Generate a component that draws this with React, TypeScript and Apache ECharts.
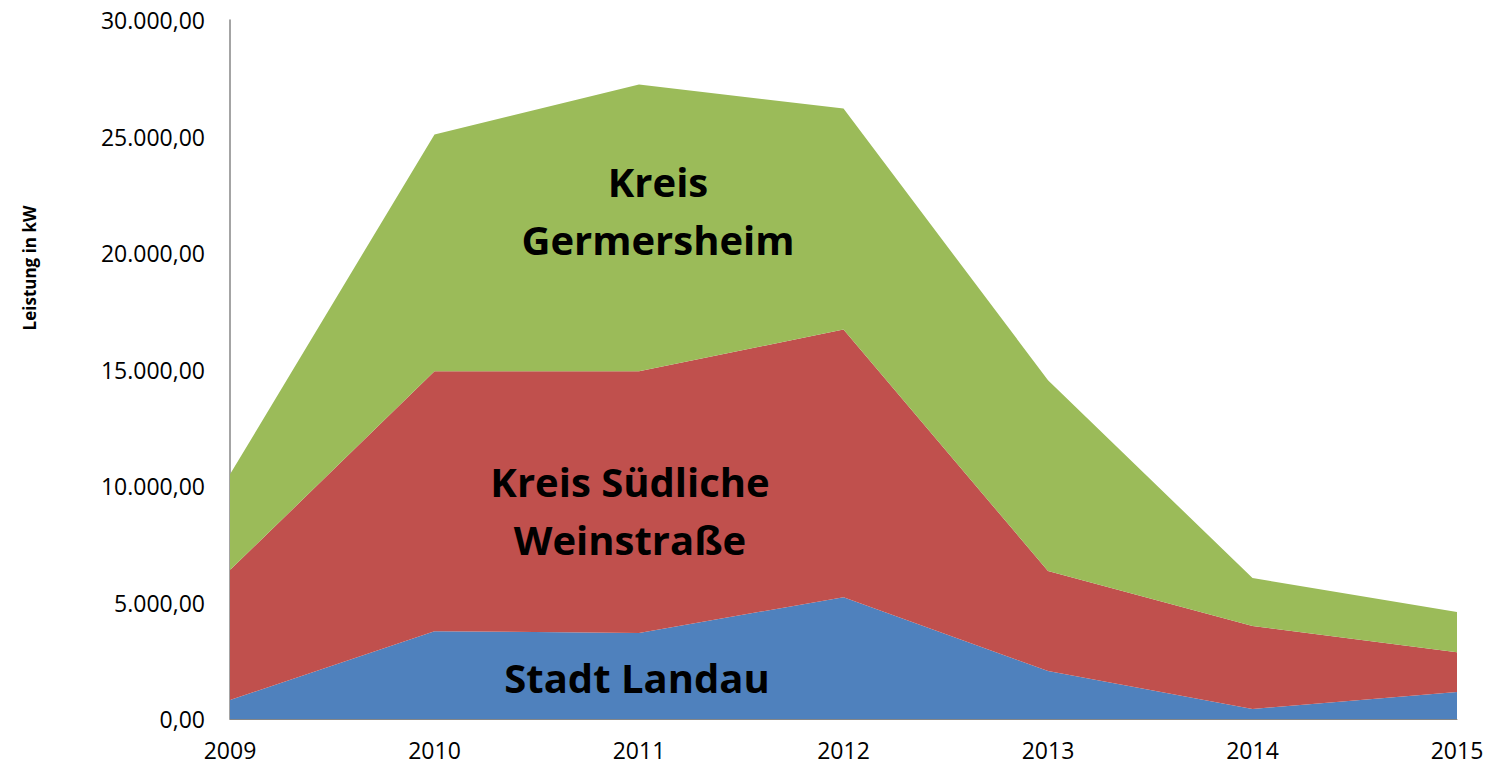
import React, { useEffect, useRef } from "react";
import * as echarts from "echarts";

const years = ["2009", "2010", "2011", "2012", "2013", "2014", "2015"];
const stadtLandau = [815, 3770, 3690, 5230, 2060, 430, 1160];
const kreisSuedlicheWeinstrasse = [5575, 11150, 11230, 11490, 4290, 3560, 1710];
const kreisGermersheim = [4110, 10170, 12310, 9480, 8190, 2060, 1720];

const FONT = "'Open Sans', 'Noto Sans', sans-serif";

function fmtDe(v: number): string {
  const fixed = v.toFixed(2);
  const [intPart, dec] = fixed.split(".");
  const withDots = intPart.replace(/\B(?=(\d{3})+(?!\d))/g, ".");
  return withDots + "," + dec;
}

export default function App() {
  const ref = useRef<HTMLDivElement>(null);
  useEffect(() => {
    if (!ref.current) return;
    const chart = echarts.init(ref.current, null, { renderer: "svg" });
    const mk = (name: string, data: number[], color: string) => ({
      name,
      type: "line",
      stack: "total",
      data,
      symbol: "none",
      lineStyle: { width: 0 },
      areaStyle: { color, opacity: 1 },
      itemStyle: { color },
    });
    const big = {
      fontFamily: FONT,
      fontSize: 40,
      fontWeight: "bold",
      lineHeight: 58,
      fill: "#000",
      align: "center",
      verticalAlign: "middle",
    };
    chart.setOption({
      animation: false,
      backgroundColor: "#ffffff",
      grid: { left: 230, right: 35, top: 20, bottom: 47, containLabel: false },
      xAxis: {
        type: "category",
        data: years,
        boundaryGap: false,
        axisLine: { show: true, lineStyle: { color: "#868686", width: 1 } },
        axisTick: { show: false },
        axisLabel: {
          color: "#000",
          fontFamily: FONT,
          fontSize: 23,
          lineHeight: 23,
          margin: 19,
        },
        splitLine: { show: false },
      },
      yAxis: {
        type: "value",
        min: 0,
        max: 30000,
        interval: 5000,
        axisLine: { show: true, lineStyle: { color: "#868686", width: 1.5 } },
        axisTick: { show: false },
        splitLine: { show: false },
        axisLabel: {
          color: "#000",
          fontFamily: FONT,
          fontSize: 23,
          margin: 25,
          formatter: (v: number) => fmtDe(v),
        },
      },
      series: [
        mk("Stadt Landau", stadtLandau, "#4F81BD"),
        mk("Kreis Südliche Weinstraße", kreisSuedlicheWeinstrasse, "#C0504D"),
        mk("Kreis Germersheim", kreisGermersheim, "#9BBB59"),
      ],
      graphic: [
        {
          type: "text",
          x: 29,
          y: 268,
          z: 100,
          rotation: Math.PI / 2,
          style: {
            text: "Leistung in kW",
            fontFamily: FONT,
            fontSize: 17,
            fontWeight: "bold",
            fill: "#000",
            align: "center",
            verticalAlign: "middle",
          },
        },
        { type: "text", x: 658, y: 210, z: 100, style: { ...big, text: "Kreis\nGermersheim" } },
        { type: "text", x: 630, y: 510, z: 100, style: { ...big, text: "Kreis Südliche\nWeinstraße" } },
        { type: "text", x: 637, y: 677, z: 100, style: { ...big, text: "Stadt Landau" } },
      ],
    });
    return () => chart.dispose();
  }, []);
  return (
    <div
      ref={ref}
      style={{ position: "absolute", left: 0, top: 0, width: 1492, height: 766 }}
    />
  );
}
